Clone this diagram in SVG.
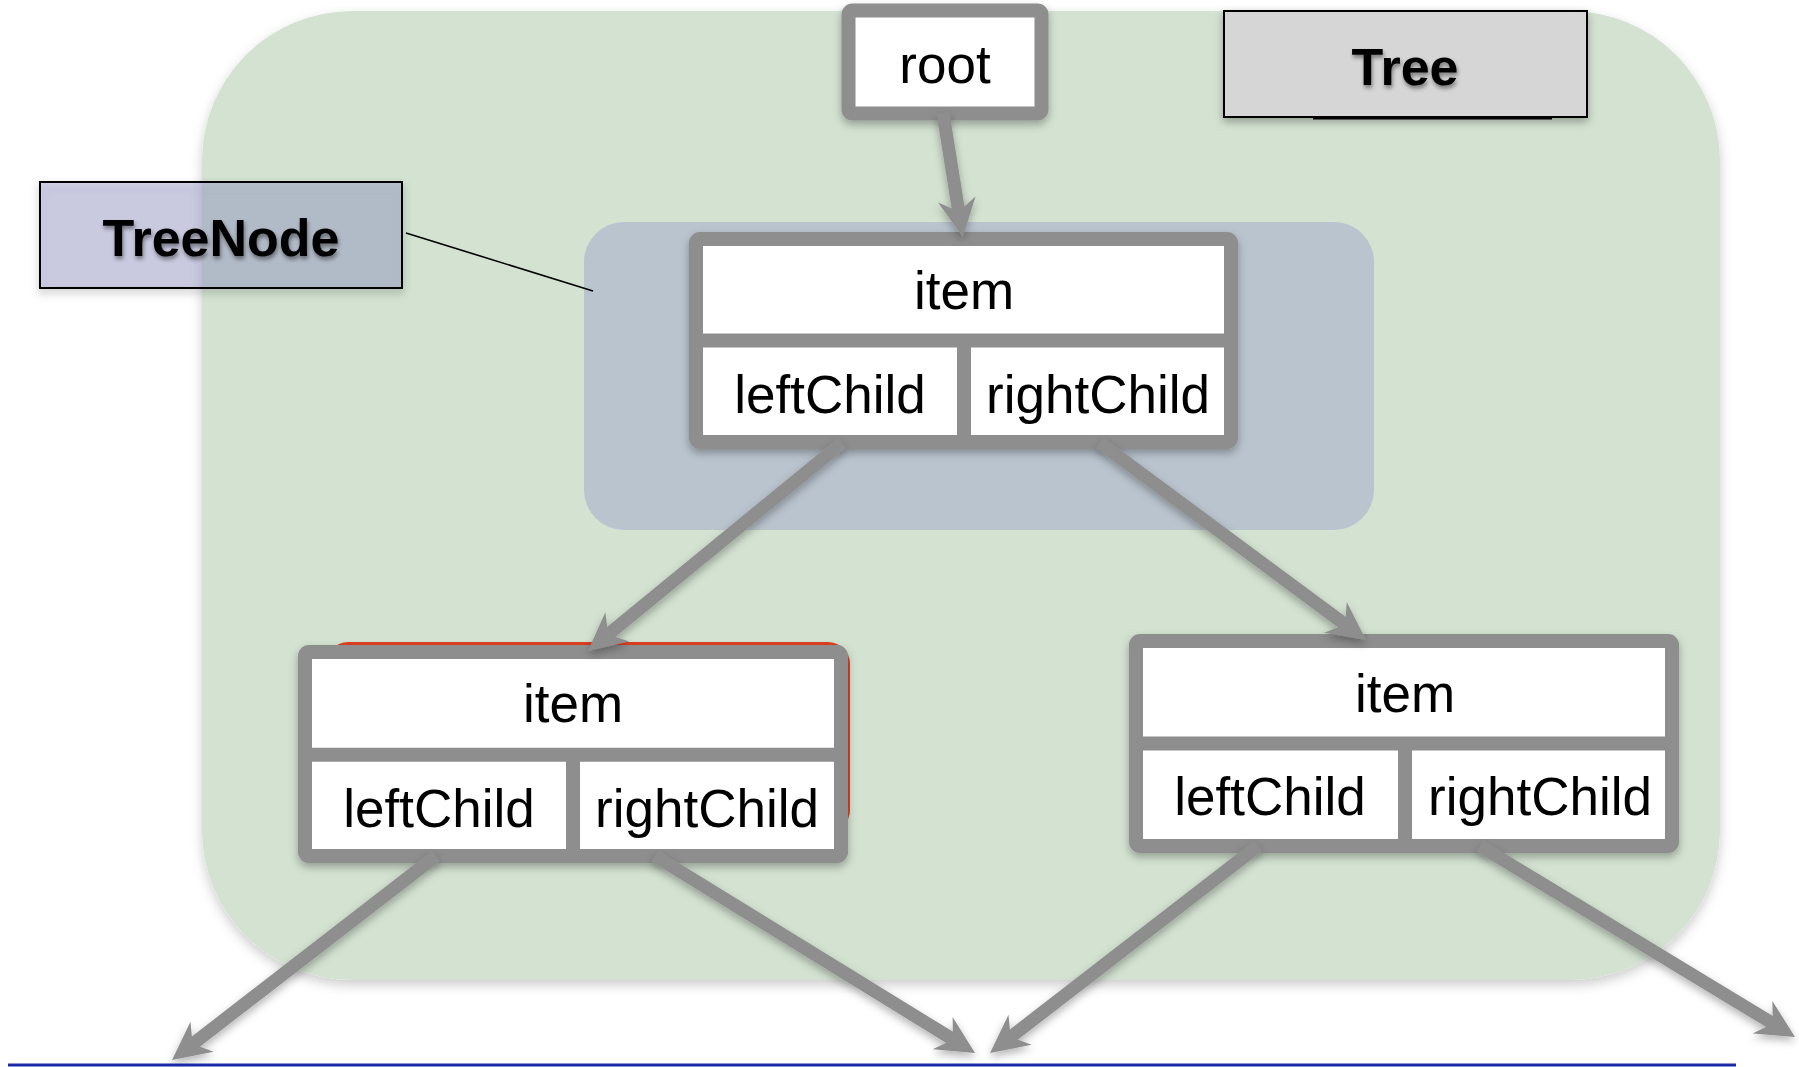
<svg xmlns="http://www.w3.org/2000/svg" width="1799" height="1067" viewBox="0 0 1799 1067">
<defs>
<style>
.box{fill:#fff;stroke:#8e8e8e;stroke-width:14;stroke-linejoin:round}
.sep{stroke:#8e8e8e;stroke-width:14}
.lbl{font-family:"Liberation Sans",Arial,sans-serif;font-size:53px;fill:#000;text-anchor:middle}
.title{font-family:"Liberation Sans",Arial,sans-serif;font-weight:bold;font-size:52px;fill:#000;text-anchor:middle}
.conn{stroke:#8e8e8e;stroke-width:13;fill:none;marker-end:url(#ah)}
</style>
<filter id="sh" x="-10%" y="-10%" width="120%" height="130%">
<feDropShadow dx="0" dy="4" stdDeviation="4" flood-color="#000" flood-opacity="0.3"/>
</filter>
<filter id="shg" x="-5%" y="-5%" width="110%" height="110%">
<feDropShadow dx="0" dy="5" stdDeviation="6" flood-color="#000" flood-opacity="0.2"/>
</filter>
<filter id="tsh" x="-10%" y="-20%" width="120%" height="150%">
<feDropShadow dx="1" dy="3" stdDeviation="2" flood-color="#000" flood-opacity="0.45"/>
</filter>
<marker id="ah" markerUnits="userSpaceOnUse" markerWidth="50" markerHeight="50" viewBox="0 0 50 50" refX="14" refY="20" orient="auto">
<path d="M40,20 L2,1 L14,20 L2,39 Z" fill="#8e8e8e"/>
</marker>
</defs>
<rect width="1799" height="1067" fill="#fff"/>

<g id="tree-container">
<rect x="202" y="11" width="1518" height="969" rx="150" fill="#d3e2d1" filter="url(#shg)"/>
</g>
<g id="treenode-container">
<rect x="584" y="222" width="790" height="308" rx="40" fill="rgb(146,149,200)" fill-opacity="0.39"/>
</g>

<g id="label-tree">
<rect x="1224" y="11" width="363" height="106" fill="#d6d6d6" stroke="#000" stroke-width="2" filter="url(#sh)"/>
<line x1="1313" y1="118" x2="1552" y2="118" stroke="#000" stroke-width="3"/>
<text class="title" x="1405" y="85" filter="url(#tsh)">Tree</text>
</g>

<g id="label-treenode">
<rect x="40" y="182" width="362" height="106" fill="rgb(146,149,200)" fill-opacity="0.39" stroke="#000" stroke-width="2" filter="url(#sh)"/>
<text class="title" x="221" y="256" filter="url(#tsh)">TreeNode</text>
<line x1="406" y1="233" x2="593" y2="291" stroke="#000" stroke-width="1.6"/>
</g>

<g id="root" filter="url(#sh)">
<rect class="box" x="848.5" y="10.5" width="193" height="103" rx="4"/>
<text class="lbl" x="945" y="83">root</text>
</g>

<g id="node-top" filter="url(#sh)">
<rect class="box" x="696" y="239" width="535" height="203" rx="4"/>
<line class="sep" x1="696" y1="340.5" x2="1231" y2="340.5"/>
<line class="sep" x1="964" y1="340.5" x2="964" y2="442" stroke-width="12"/>
<text class="lbl" x="964" y="309">item</text>
<text class="lbl" x="830" y="413">leftChild</text>
<text class="lbl" x="1098" y="413">rightChild</text>
</g>

<g id="node-left">
<rect x="326" y="642" width="524" height="190" rx="22" fill="#e0401f"/>
<g filter="url(#sh)">
<rect class="box" x="305" y="652" width="536" height="204" rx="4"/>
<line class="sep" x1="305" y1="754.7" x2="841" y2="754.7"/>
<line class="sep" x1="573" y1="754.7" x2="573" y2="856" stroke-width="12"/>
<text class="lbl" x="573" y="722">item</text>
<text class="lbl" x="439" y="827">leftChild</text>
<text class="lbl" x="707" y="827">rightChild</text>
</g>
</g>

<g id="node-right" filter="url(#sh)">
<rect class="box" x="1136" y="641" width="536" height="205" rx="4"/>
<line class="sep" x1="1136" y1="743.5" x2="1672" y2="743.5"/>
<line class="sep" x1="1405" y1="743.5" x2="1405" y2="846" stroke-width="12"/>
<text class="lbl" x="1405" y="712">item</text>
<text class="lbl" x="1270" y="815">leftChild</text>
<text class="lbl" x="1540" y="815">rightChild</text>
</g>

<g id="connectors" filter="url(#sh)">
<line class="conn" x1="943" y1="113" x2="958.7" y2="211.4"/>
<line class="conn" x1="842" y1="443" x2="608.1" y2="634.5"/>
<line class="conn" x1="1100" y1="443" x2="1345.1" y2="624.5"/>
<line class="conn" x1="436" y1="856" x2="192.6" y2="1044.1"/>
<line class="conn" x1="655" y1="856" x2="952.9" y2="1039.4"/>
<line class="conn" x1="1258" y1="846" x2="1010.6" y2="1037.1"/>
<line class="conn" x1="1480" y1="846" x2="1772.8" y2="1023.5"/>
</g>

<line id="baseline" x1="8" y1="1065" x2="1736" y2="1065" stroke="#1a2aa6" stroke-width="3"/>
</svg>
